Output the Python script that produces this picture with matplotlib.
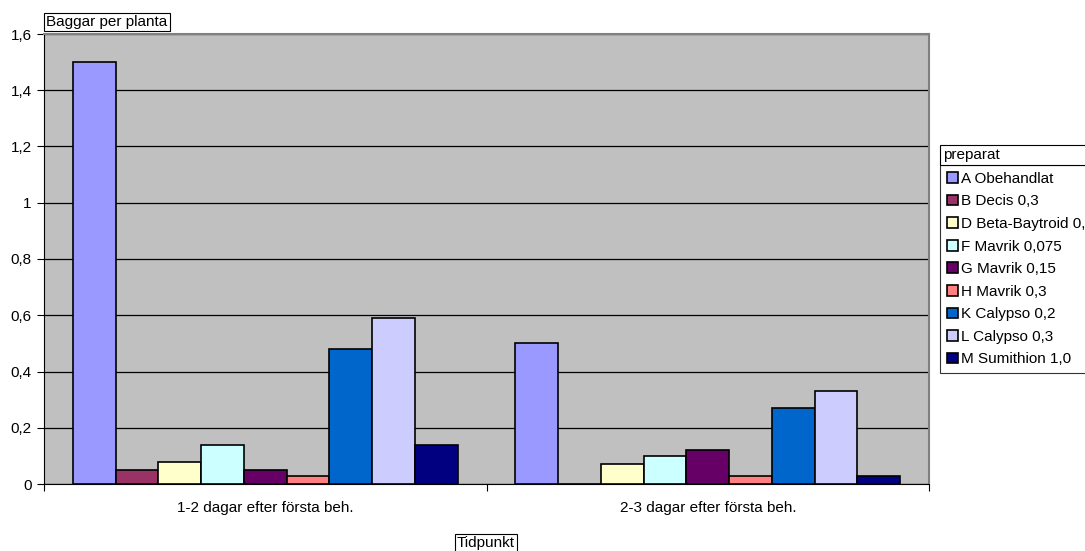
import numpy as np
import matplotlib.pyplot as plt
import matplotlib.ticker as mticker
from matplotlib.patches import Rectangle

plt.rcParams['font.family'] = ['Liberation Sans', 'DejaVu Sans']
plt.rcParams['font.size'] = 11

# beetles per plant, per treatment and time point
tidpunkt = ['1-2 dagar efter första beh.', '2-3 dagar efter första beh.']
preparat = ['A Obehandlat', 'B Decis 0,3', 'D Beta-Baytroid 0,3', 'F Mavrik 0,075',
            'G Mavrik 0,15', 'H Mavrik 0,3', 'K Calypso 0,2', 'L Calypso 0,3',
            'M Sumithion 1,0']
varden_1 = [1.50, 0.05, 0.08, 0.14, 0.05, 0.03, 0.48, 0.59, 0.14]
varden_2 = [0.50, 0.00, 0.07, 0.10, 0.12, 0.03, 0.27, 0.33, 0.03]
farger = ['#9999FF', '#993366', '#FFFFCC', '#CCFFFF', '#660066',
          '#FF8080', '#0066CC', '#CCCCFF', '#000080']

fig = plt.figure(figsize=(10.85, 5.51), dpi=100)
ax = fig.add_axes([44 / 1085, 1 - 484 / 551, 885 / 1085, 450 / 551])
ax.set_facecolor('#C0C0C0')

x = np.arange(len(tidpunkt))
n = len(preparat)
w = (1 / 1.15) / n  # gap width 150 %
for i in range(n):
    vals = [varden_1[i], varden_2[i]]
    ax.bar(x + (i - (n - 1) / 2) * w, vals, width=w, color=farger[i],
           edgecolor='black', linewidth=1.2, label=preparat[i], zorder=3)

ax.set_xlim(-0.5, 1.5)
ax.set_ylim(0, 1.6)
ax.yaxis.set_major_locator(mticker.MultipleLocator(0.2))
ax.yaxis.set_major_formatter(mticker.FuncFormatter(
    lambda v, p: ('%g' % round(v, 1)).replace('.', ',')))
ax.yaxis.grid(True, color='black', linewidth=0.9, zorder=1)
ax.set_axisbelow(True)

# category boundaries as ticks, labels centred in between
ax.set_xticks([-0.5, 0.5, 1.5])
ax.set_xticklabels([])
ax.set_xticks(x, minor=True)
ax.set_xticklabels(tidpunkt, minor=True)
ax.tick_params(axis='x', which='minor', length=0, pad=12)
ax.tick_params(axis='x', which='major', direction='out', length=5, width=0.8)
ax.tick_params(axis='y', direction='out', length=5, width=0.8, pad=4)

ax.spines['left'].set_color('black')
ax.spines['bottom'].set_color('black')
ax.spines['top'].set_color('#808080')
ax.spines['right'].set_color('#808080')
ax.spines['top'].set_linewidth(1.5)
ax.spines['right'].set_linewidth(1.5)

box = dict(boxstyle='square,pad=0.15', facecolor='white', edgecolor='black', linewidth=0.8)
fig.text(46 / 1085, 1 - 22 / 551, 'Baggar per planta', ha='left', va='center', bbox=box)
fig.text(486 / 1085, 1 - 543 / 551, 'Tidpunkt', ha='center', va='center', bbox=box)

# legend with its title in a separate box above
fig.patches.append(Rectangle((940 / 1085, 1 - 165 / 551), 160 / 1085, 20 / 551,
                             transform=fig.transFigure, facecolor='white',
                             edgecolor='black', linewidth=0.8))
fig.text(943 / 1085, 1 - 155 / 551, 'preparat', ha='left', va='center')
leg = ax.legend(loc='upper left', bbox_to_anchor=(940 / 1085, 1 - 165 / 551),
                bbox_transform=fig.transFigure, frameon=True, fancybox=False,
                edgecolor='black', handlelength=0.7, handleheight=0.7,
                handletextpad=0.2, labelspacing=0.56, borderpad=0.45,
                borderaxespad=0)
leg.get_frame().set_linewidth(0.8)

fig.savefig('out.png', dpi=100)
